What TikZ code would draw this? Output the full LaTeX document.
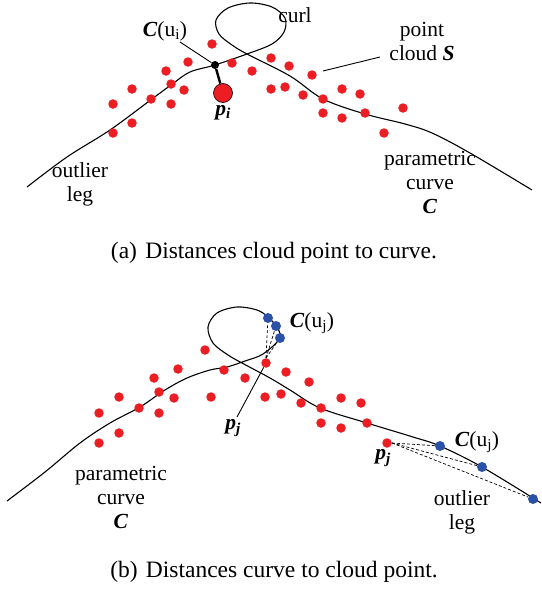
\documentclass[tikz,border=0pt]{standalone}
\usepackage{fontspec}
\setmainfont{Liberation Serif}
\usetikzlibrary{positioning}

\definecolor{cloudred}{RGB}{236,30,36}
\definecolor{curveblue}{RGB}{44,82,168}
\newcommand{\bi}[1]{\textbf{\textit{#1}}}

\begin{document}
\begin{tikzpicture}[
	x=1pt, y=-1pt,
	node distance=1pt,
	curveline/.style={line width=1.1pt, smooth, tension=0.55},
	pointer/.style={line width=0.9pt},
	cloudpt/.style={circle, fill=cloudred, inner sep=0pt, minimum size=9.5pt},
	curvept/.style={circle, fill=curveblue, inner sep=0pt, minimum size=10pt},
	label/.style={align=center, font=\fontsize{21.5}{24}\selectfont, inner sep=0pt},
	caption/.style={font=\fontsize{23.5}{27}\selectfont, inner sep=0pt}
]
\useasboundingbox (0,0) rectangle (541,589);

% (a) cloud point to curve
\draw[curveline] plot coordinates {(27,187) (67,157) (110,130) (152,99) (171,85)
	(190,72) (215,65) (247,54) (272,44) (284,32) (285,18) (272,7) (250,3)
	(228,8) (216,20) (219,34) (232,45) (247,54) (290,76) (323,99) (365,114)
	(405,124) (432,133) (470,153) (532,190)};

\foreach \x/\y [count=\k] in {212/44, 188/62, 166/71, 232/63, 252/71, 132/89,
	171/84, 184/90, 113/104, 151/99, 171/104, 132/123, 113/133, 271/58, 289/66,
	312/75, 271/89, 285/87, 303/95, 323/99, 342/89, 360/94, 323/113, 342/118,
	365/113, 403/108, 384/133}
	\node[cloudpt] (sa\k) at (\x,\y) {};

\node[circle, fill=black, inner sep=0pt, minimum size=8pt] (cui) at (215,65) {};
\node[cloudpt, draw=black, line width=0.6pt, minimum size=19pt] (pi) at (223,93) {};
\draw[line width=2.4pt] (cui) -- (pi);

\node[label, below=2pt of pi] (pilab) {\bi{p\textsubscript{i}}};
\node[label] (cuilab) at (165,31) {\bi{C}(u\textsubscript{i})};
\coordinate (cuitip) at (180,42);
\draw[pointer] (cuitip) -- (cui);

\node[label] (curl) at (295,15) {curl};
\node[label] (cloudlab) at (422,41) {point\\cloud \bi{S}};
\coordinate (cloudfrom) at (380,57);
\coordinate (cloudto) at (323,71);
\draw[pointer] (cloudfrom) -- (cloudto);

\node[label] (curvea) at (430,182) {parametric\\curve\\\bi{C}};
\node[label] (lega) at (80,184) {outlier\\leg};

\node[caption] (capa) at (274,253) {(a)\hspace{0.35em}Distances cloud point to curve.};

% (b) curve to cloud point
\draw[curveline] plot coordinates {(7,501) (45,472) (80,443) (110,423) (140,407)
	(165,390) (187,378) (210,370) (227,367) (245,361) (263,354) (280,338)
	(276,326) (268,317) (257,310) (237,307) (217,313) (208,327) (213,343)
	(228,355) (242,363) (270,378) (290,390) (320,408) (367,423) (413,437)
	(440,446) (482,467) (541,503)};

\foreach \x/\y [count=\k] in {205/350, 178/369, 154/378, 224/370, 245/378,
	119/397, 159/392, 174/398, 211/397, 99/413, 139/408, 159/413, 119/433,
	99/443, 265/397, 286/372, 309/382, 281/394, 301/403, 321/408, 341/398,
	361/403, 321/423, 341/428, 367/423}
	\node[cloudpt] (sb\k) at (\x,\y) {};

\node[cloudpt] (pj) at (266,363) {};
\node[cloudpt] (pjo) at (387,443) {};

\node[curvept] (cl1) at (268,318) {};
\node[curvept] (cl2) at (276,326) {};
\node[curvept] (cl3) at (280,338) {};
\node[curvept] (cr1) at (440,446) {};
\node[curvept] (cr2) at (482,467) {};
\node[curvept] (cr3) at (533,499) {};

\foreach \c in {cl1, cl2, cl3}
	\draw[pointer, densely dashed, line width=0.7pt] (pj.north) -- (\c);
\foreach \c in {cr1, cr2, cr3}
	\draw[pointer, densely dashed, line width=0.7pt] (pjo.east) -- (\c);

\node[label] (cujlab) at (312,323) {\bi{C}(u\textsubscript{j})};
\node[label] (pjlab) at (233,428) {\bi{p\textsubscript{j}}};
\coordinate (pjtip) at (237,417);
\draw[pointer] (pjtip) -- (pj);

\node[label] (cujolab) at (477,442) {\bi{C}(u\textsubscript{j})};
\node[label] (pjolab) at (383,458) {\bi{p\textsubscript{j}}};
\node[label] (legb) at (462,512) {outlier\\leg};
\node[label] (curveb) at (121,497) {parametric\\curve\\\bi{C}};

\node[caption] (capb) at (274,572) {(b)\hspace{0.35em}Distances curve to cloud point.};
\end{tikzpicture}
\end{document}
